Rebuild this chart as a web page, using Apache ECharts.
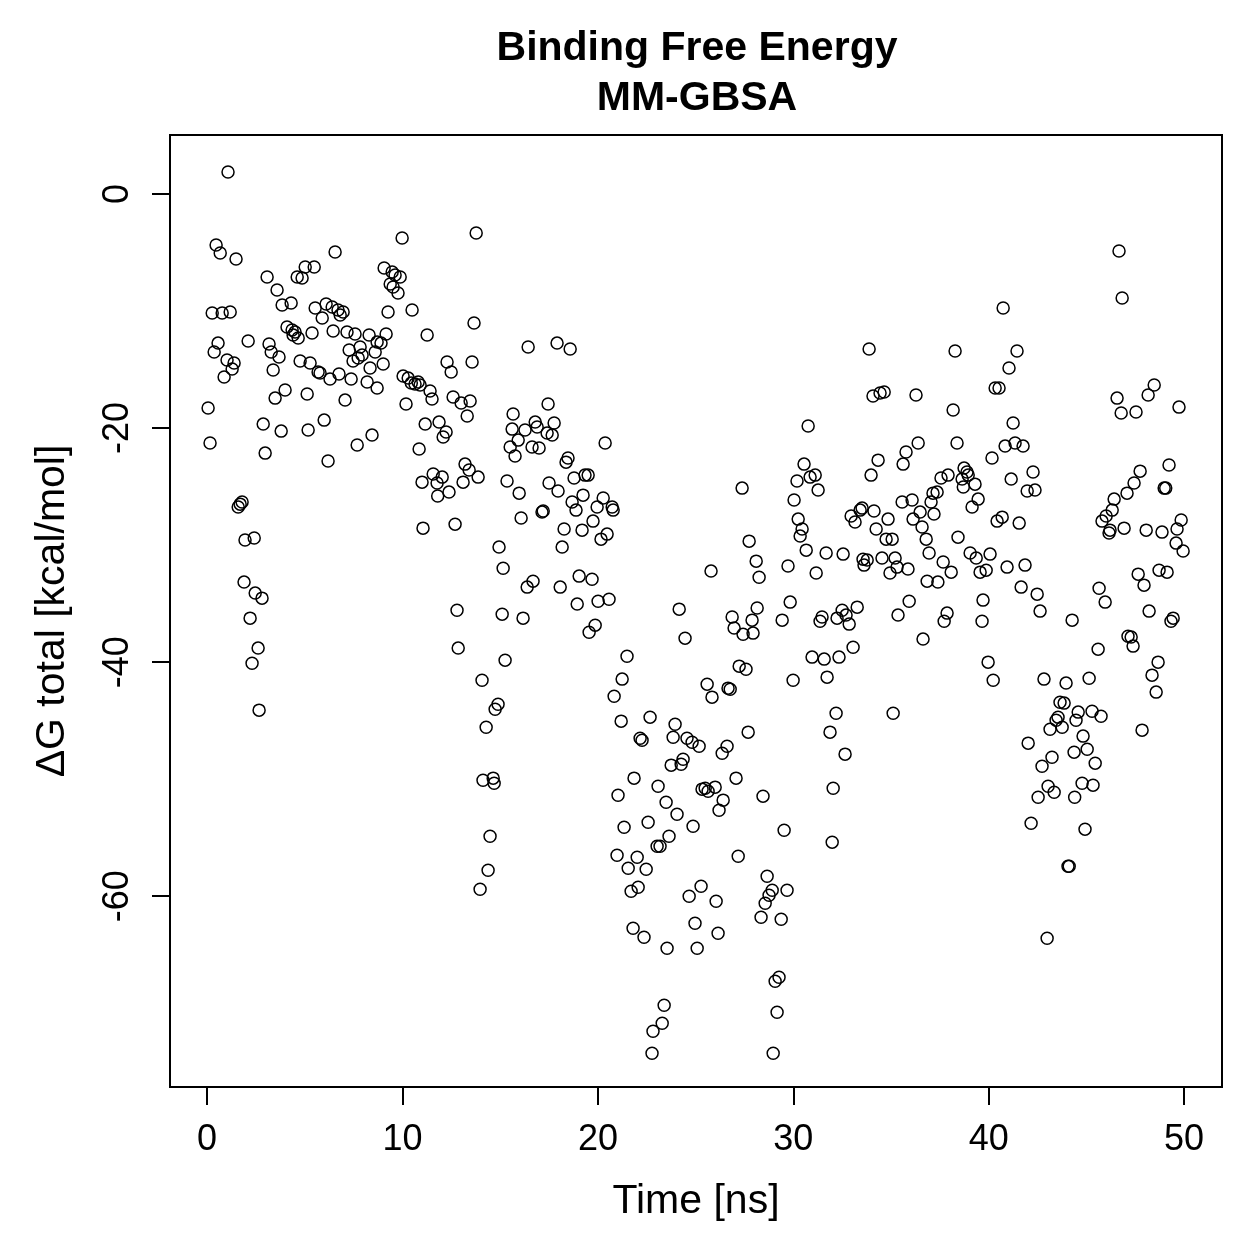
<!DOCTYPE html>
<html>
<head>
<meta charset="utf-8">
<script src="https://cdn.jsdelivr.net/npm/echarts@6/dist/echarts.min.js"></script>
<style>
  html, body { margin: 0; padding: 0; background: #fff; }
  #chart { width: 1259px; height: 1259px; }
</style>
</head>
<body>
<div id="chart"></div>
<script>
// [time (ns), dG total (kcal/mol)], split by time range
const run0to9 = [
  [0.05,-18.29],[0.15,-21.28],[0.26,-10.17],[0.36,-13.50],[0.46,-4.36],[0.56,-12.74],[0.67,-5.04],[0.77,-10.17],[0.87,-15.64],[1.02,-14.19],
  [1.07,1.88],[1.18,-10.09],[1.28,-14.96],[1.38,-14.44],[1.48,-5.56],[1.59,-26.75],[1.69,-26.50],[1.79,-26.32],[1.89,-33.16],[1.94,-29.57],
  [2.10,-12.56],[2.20,-36.24],[2.30,-40.09],[2.41,-29.40],[2.46,-34.10],[2.61,-38.80],[2.66,-44.10],[2.81,-34.53],[2.87,-19.66],[2.97,-22.14],
  [3.07,-7.09],[3.17,-12.82],[3.28,-13.50],[3.38,-15.04],[3.48,-17.44],[3.58,-8.21],[3.68,-13.93],[3.79,-20.26],[3.84,-9.49],[3.99,-16.75],
  [4.09,-11.37],[4.30,-9.32],[4.35,-11.62],[4.40,-12.05],[4.50,-11.79],[4.61,-7.09],[4.66,-12.31],[4.76,-14.27],[4.86,-7.18],[5.02,-6.24],
  [5.12,-17.09],[5.17,-20.17],[5.27,-14.44],[5.37,-11.88],[5.48,-6.24],[5.53,-9.74],[5.68,-15.21],[5.78,-15.30],[5.89,-10.60],[5.99,-19.32],
  [6.09,-9.40],[6.19,-22.82],[6.29,-15.81],[6.40,-9.66],[6.45,-11.71],[6.55,-4.96],[6.70,-9.91],[6.75,-15.38],[6.81,-10.34],[6.96,-10.09],
  [7.06,-17.61],[7.16,-11.79],[7.27,-13.33],[7.37,-15.81],[7.47,-14.27],[7.57,-11.97],[7.68,-21.45],[7.73,-14.02],[7.83,-13.08],[7.93,-13.76],
  [8.19,-16.07],[8.29,-12.05],[8.34,-14.87],[8.44,-20.60],[8.60,-13.50],[8.70,-16.58],[8.70,-12.65],[8.90,-12.74],[9.01,-14.53]
];
const run9to17 = [
  [9.06,-6.32],[9.16,-11.97],[9.26,-10.09],[9.37,-7.69],[9.47,-6.67],[9.52,-7.95],[9.62,-6.92],[9.77,-8.46],[9.88,-7.09],[9.98,-3.76],
  [10.03,-15.56],[10.18,-17.95],[10.29,-15.73],[10.49,-9.91],[10.45,-16.15],[10.64,-16.24],[10.80,-16.07],[10.85,-21.79],[10.90,-16.32],[11.00,-24.62],
  [11.05,-28.55],[11.16,-19.66],[11.26,-12.05],[11.41,-16.84],[11.51,-17.52],[11.57,-23.93],[11.77,-24.70],[11.80,-25.81],[11.87,-19.49],[12.03,-24.19],
  [12.08,-20.77],[12.23,-20.34],[12.28,-14.36],[12.38,-25.47],[12.49,-15.21],[12.59,-17.35],[12.69,-28.21],[12.79,-35.56],[12.85,-38.80],[13.00,-17.86],
  [13.10,-24.62],[13.20,-23.08],[13.31,-18.97],[13.41,-23.59],[13.46,-17.69],[13.56,-14.36],[13.66,-11.03],[13.77,-3.33],[13.87,-24.19],[13.97,-59.40],
  [14.07,-41.54],[14.12,-50.09],[14.28,-45.56],[14.38,-57.78],[14.48,-54.87],[14.64,-49.91],[14.69,-50.34],[14.74,-44.02],[14.89,-43.59],[14.94,-30.17],
  [15.10,-35.90],[15.15,-31.97],[15.25,-39.83],[15.35,-24.53],[15.51,-21.62],[15.61,-20.09],[15.66,-18.80],[15.76,-22.39],[15.92,-21.03],[15.97,-25.56],
  [16.07,-27.69],[16.17,-36.24],[16.27,-20.17],[16.38,-33.59],[16.43,-13.08],[16.63,-21.62],[16.68,-33.08],[16.79,-19.49],[16.89,-19.91],[16.99,-21.71],
  [17.14,-27.18],[17.20,-27.09],[17.40,-20.43],[17.45,-17.95],[17.50,-24.70]
];
const run17to26 = [
  [17.66,-20.60],[17.76,-19.57],[17.91,-12.74],[17.96,-25.38],[18.07,-33.59],[18.17,-30.17],[18.27,-28.63],[18.37,-22.91],[18.47,-22.56],[18.58,-13.25],
  [18.68,-26.32],[18.78,-24.27],[18.88,-27.01],[18.94,-35.04],[19.04,-32.65],[19.19,-28.72],[19.24,-25.73],[19.34,-24.02],[19.50,-24.02],[19.55,-37.44],
  [19.70,-32.91],[19.75,-27.95],[19.86,-36.84],[19.96,-26.75],[20.01,-34.79],[20.16,-29.49],[20.27,-25.98],[20.37,-21.28],[20.47,-29.06],[20.57,-34.62],
  [20.73,-26.75],[20.78,-27.01],[20.83,-42.91],[20.98,-56.50],[21.03,-51.37],[21.19,-45.04],[21.24,-41.45],[21.34,-54.10],[21.49,-39.49],[21.55,-57.61],
  [21.70,-59.57],[21.80,-62.74],[21.85,-49.91],[22.01,-56.67],[22.06,-59.23],[22.16,-46.50],[22.26,-46.67],[22.36,-63.50],[22.47,-57.69],[22.57,-53.68],
  [22.67,-44.70],[22.77,-73.42],[22.82,-71.54],[23.03,-55.73],[23.08,-50.60],[23.18,-55.73],[23.29,-70.85],[23.39,-69.32],[23.49,-51.97],[23.54,-64.44],
  [23.64,-54.87],[23.75,-48.80],[23.85,-46.41],[23.95,-45.30],[24.05,-52.99],[24.16,-35.47],[24.26,-48.72],[24.36,-48.29],[24.46,-37.95],[24.56,-46.50],
  [24.67,-60.00],[24.82,-46.84],[24.87,-54.02],[24.97,-62.31],[25.08,-64.44],[25.18,-47.18],[25.28,-59.15],[25.33,-50.85],[25.49,-50.77],[25.59,-41.88],
  [25.64,-51.03],[25.79,-32.22],[25.84,-42.99],[26.00,-50.68],[26.05,-60.43],[26.15,-63.16],[26.20,-52.65],[26.36,-47.78],[26.41,-51.79],[26.61,-47.18]
];
const run26to35 = [
  [26.66,-42.22],[26.77,-42.31],[26.87,-36.15],[26.97,-37.09],[27.07,-49.91],[27.18,-56.58],[27.23,-40.34],[27.38,-25.13],[27.43,-37.61],[27.58,-40.60],
  [27.69,-45.98],[27.74,-29.66],[27.89,-36.41],[27.94,-37.52],[28.10,-31.37],[28.15,-35.38],[28.25,-32.74],[28.35,-61.79],[28.45,-51.45],[28.56,-60.60],
  [28.66,-58.29],[28.76,-59.91],[28.92,-59.49],[28.97,-73.42],[29.07,-67.26],[29.17,-69.91],[29.27,-66.92],[29.38,-61.97],[29.43,-36.41],[29.53,-54.36],
  [29.68,-59.49],[29.73,-31.79],[29.84,-34.87],[29.99,-41.54],[30.04,-26.15],[30.19,-24.53],[30.25,-27.78],[30.35,-29.23],[30.45,-28.63],[30.55,-23.08],
  [30.66,-30.43],[30.76,-19.83],[30.86,-24.19],[30.96,-39.57],[31.12,-24.02],[31.17,-32.39],[31.27,-25.30],[31.37,-36.50],[31.47,-36.15],[31.58,-39.74],
  [31.68,-30.68],[31.73,-41.28],[31.88,-45.98],[31.99,-55.38],[32.04,-50.77],[32.19,-44.36],[32.24,-36.24],[32.34,-39.57],[32.50,-35.56],[32.55,-30.77],
  [32.65,-47.86],[32.70,-35.98],[32.86,-36.75],[32.96,-27.52],[33.06,-38.72],[33.16,-28.03],[33.27,-35.30],[33.42,-27.01],[33.52,-26.84],[33.57,-31.20],
  [33.62,-31.71],[33.78,-31.28],[33.88,-13.25],[33.98,-24.02],[34.08,-17.26],[34.13,-27.09],[34.24,-28.63],[34.34,-22.74],[34.44,-17.01],[34.54,-31.11],
  [34.65,-16.92],[34.75,-29.49],[34.85,-27.78],[34.95,-32.39],[35.06,-29.49],[35.11,-44.36],[35.21,-31.11],[35.31,-31.88],[35.36,-35.98],[35.57,-26.32]
];
const run35to44 = [
  [35.62,-23.08],[35.77,-22.05],[35.87,-32.05],[35.93,-34.79],[36.08,-26.15],[36.13,-27.78],[36.28,-17.18],[36.39,-21.28],[36.49,-27.18],[36.59,-28.46],
  [36.64,-38.03],[36.80,-29.49],[36.85,-33.08],[36.95,-30.68],[37.05,-26.32],[37.15,-25.56],[37.20,-27.35],[37.36,-25.47],[37.40,-33.16],[37.56,-24.27],
  [37.67,-31.45],[37.72,-36.50],[37.87,-35.81],[37.92,-24.02],[38.08,-32.31],[38.18,-18.46],[38.28,-13.42],[38.38,-21.28],[38.43,-29.32],[38.64,-24.36],
  [38.70,-25.04],[38.74,-23.42],[38.89,-23.76],[38.95,-24.02],[39.05,-30.68],[39.15,-26.75],[39.30,-24.79],[39.36,-31.11],[39.46,-26.07],[39.56,-32.31],
  [39.66,-36.50],[39.71,-34.70],[39.87,-32.14],[39.97,-40.00],[40.07,-30.77],[40.17,-22.56],[40.23,-41.54],[40.33,-16.58],[40.43,-27.95],[40.53,-16.58],
  [40.69,-27.61],[40.74,-9.74],[40.84,-21.54],[40.94,-31.88],[41.04,-14.87],[41.15,-24.36],[41.25,-19.57],[41.35,-21.28],[41.45,-13.42],[41.56,-28.12],
  [41.66,-33.59],[41.76,-21.54],[41.86,-31.71],[41.97,-25.38],[42.02,-46.92],[42.17,-53.76],[42.27,-23.76],[42.37,-25.30],[42.48,-34.19],[42.53,-51.54],
  [42.63,-35.64],[42.73,-48.89],[42.83,-41.45],[42.99,-63.59],[43.04,-50.60],[43.14,-45.73],[43.24,-48.12],[43.35,-51.11],[43.45,-44.96],[43.55,-44.70],
  [43.65,-43.42],[43.76,-45.56],[43.86,-43.50],[43.96,-41.79],[44.06,-57.44],[44.12,-57.44],[44.27,-36.41],[44.37,-47.69],[44.40,-51.54]
];
const run44to50 = [
  [44.47,-44.96],[44.58,-44.27],[44.78,-50.34],[44.83,-46.32],[44.93,-54.27],[45.04,-47.44],[45.14,-41.37],[45.29,-44.19],[45.34,-50.51],[45.45,-48.63],
  [45.60,-38.89],[45.65,-33.68],[45.75,-44.62],[45.80,-27.95],[45.96,-34.87],[46.01,-27.52],[46.16,-28.97],[46.21,-28.72],[46.32,-27.01],[46.42,-26.07],
  [46.57,-17.44],[46.67,-4.87],[46.78,-18.72],[46.83,-8.89],[46.93,-28.55],[47.08,-25.56],[47.13,-37.78],[47.29,-37.86],[47.39,-38.63],[47.44,-24.70],
  [47.54,-18.63],[47.65,-32.48],[47.75,-23.68],[47.85,-45.81],[47.95,-33.42],[48.06,-28.72],[48.16,-17.18],[48.21,-35.64],[48.36,-41.11],[48.47,-16.32],
  [48.57,-42.56],[48.67,-40.00],[48.72,-32.14],[48.87,-28.89],[48.98,-25.13],[49.06,-25.13],[49.13,-32.31],[49.23,-23.16],[49.33,-36.50],[49.44,-36.24],
  [49.59,-29.83],[49.64,-28.63],[49.74,-18.21],[49.85,-27.86],[49.95,-30.51]
];

const xTicks = [0, 10, 20, 30, 40, 50];
const yTicks = [-60, -40, -20, 0];

const FONT = '"Liberation Sans", Arial, Helvetica, sans-serif';

const allPoints = [].concat(run0to9, run9to17, run17to26, run26to35, run35to44, run44to50);

const chart = echarts.init(document.getElementById('chart'), null, { renderer: 'canvas' });

const option = {
  backgroundColor: '#ffffff',
  animation: false,
  title: {
    text: 'Binding Free Energy\nMM-GBSA',
    left: 692,
    top: 19,
    textAlign: 'center',
    textStyle: { fontFamily: FONT, fontSize: 41, fontWeight: 'bold', color: '#000', lineHeight: 50 }
  },
  grid: {
    left: 170, right: 37, top: 135, bottom: 172,
    show: true, borderColor: '#000', borderWidth: 2, backgroundColor: 'transparent'
  },
  xAxis: {
    type: 'value',
    min: -1.9,
    max: 51.94,
    name: 'Time [ns]',
    nameLocation: 'middle',
    nameGap: 94,
    nameTextStyle: { fontFamily: FONT, fontSize: 41, color: '#000' },
    axisLine: { show: false, onZero: false },
    splitLine: { show: false },
    axisTick: { show: true, length: 18, customValues: xTicks, lineStyle: { color: '#000', width: 2 } },
    axisLabel: { customValues: xTicks, fontFamily: FONT, fontSize: 36, color: '#000', margin: 35 }
  },
  yAxis: {
    type: 'value',
    min: -76.3,
    max: 5.04,
    name: 'ΔG total [kcal/mol]',
    nameLocation: 'middle',
    nameGap: 97,
    nameTextStyle: { fontFamily: FONT, fontSize: 41, color: '#000' },
    axisLine: { show: false, onZero: false },
    splitLine: { show: false },
    axisTick: { show: true, length: 18, customValues: yTicks, lineStyle: { color: '#000', width: 2 } },
    axisLabel: { customValues: yTicks, rotate: 90, fontFamily: FONT, fontSize: 36, color: '#000', margin: 34 }
  },
  series: [{
    type: 'scatter',
    data: allPoints,
    symbol: 'circle',
    symbolSize: 12,
    itemStyle: { color: 'rgba(0,0,0,0)', borderColor: '#000', borderWidth: 1.5, opacity: 1 }
  }]
};

chart.setOption(option);
</script>
</body>
</html>
